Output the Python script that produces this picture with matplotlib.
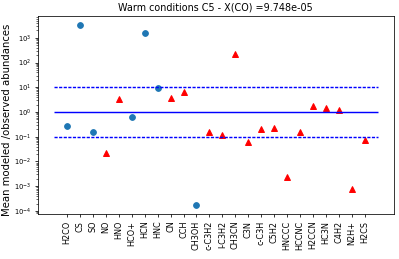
import matplotlib
matplotlib.use("Agg")
import matplotlib.pyplot as plt
import numpy as np

species = ["H2CO", "CS", "SO", "NO", "HNO", "HCO+", "HCN", "HNC", "CN", "CCH",
           "CH3OH", "c-C3H2", "l-C3H2", "CH3CN", "C3N", "c-C3H", "C5H2", "HNCCC",
           "HCCNC", "H2CCN", "HC3N", "C4H2", "N2H+", "H2CS"]
ratios = [0.28, 3300, 0.16, 0.022, 3.3, 0.65, 1600, 9.0, 3.8, 6.5,
          1.75e-4, 0.16, 0.12, 225, 0.06, 0.2, 0.23, 0.0023,
          0.16, 1.8, 1.5, 1.2, 7.5e-4, 0.075]
kind = ["c", "c", "c", "t", "t", "c", "c", "c", "t", "t",
        "c", "t", "t", "t", "t", "t", "t", "t",
        "t", "t", "t", "t", "t", "t"]
title = "Warm conditions C5 - X(CO) =9.748e-05"

dpi = 69
fig = plt.figure(figsize=(399 / dpi, 259 / dpi), dpi=dpi)
ax = fig.add_axes([0.095, 0.174, 0.892, 0.764])

x = np.arange(len(species))
ratios = np.array(ratios)
kind = np.array(kind)
mc = kind == "c"
mt = kind == "t"
ax.plot(x[mc], ratios[mc], "o", color="tab:blue", markersize=6)
ax.plot(x[mt], ratios[mt], "^", color="red", markersize=7)
ax.hlines(1, -1, len(species), colors="b", linestyles="-", linewidth=1.5)
ax.hlines([10, 0.1], -1, len(species), colors="b",
          linestyles=[(0, (2.2, 1.0))], linewidth=1.5)
ax.set_yscale("log")
ax.set_xticks(x)
ax.set_xticklabels(species, rotation=90, fontsize=8.5)
ax.tick_params(axis="y", labelsize=7)
ax.set_ylabel("Mean modeled /observed abundances", fontsize=10.6)
ax.yaxis.set_label_coords(-0.072, 0.475)
ax.set_title(title, fontsize=10)
fig.savefig("out.png", dpi=dpi)
